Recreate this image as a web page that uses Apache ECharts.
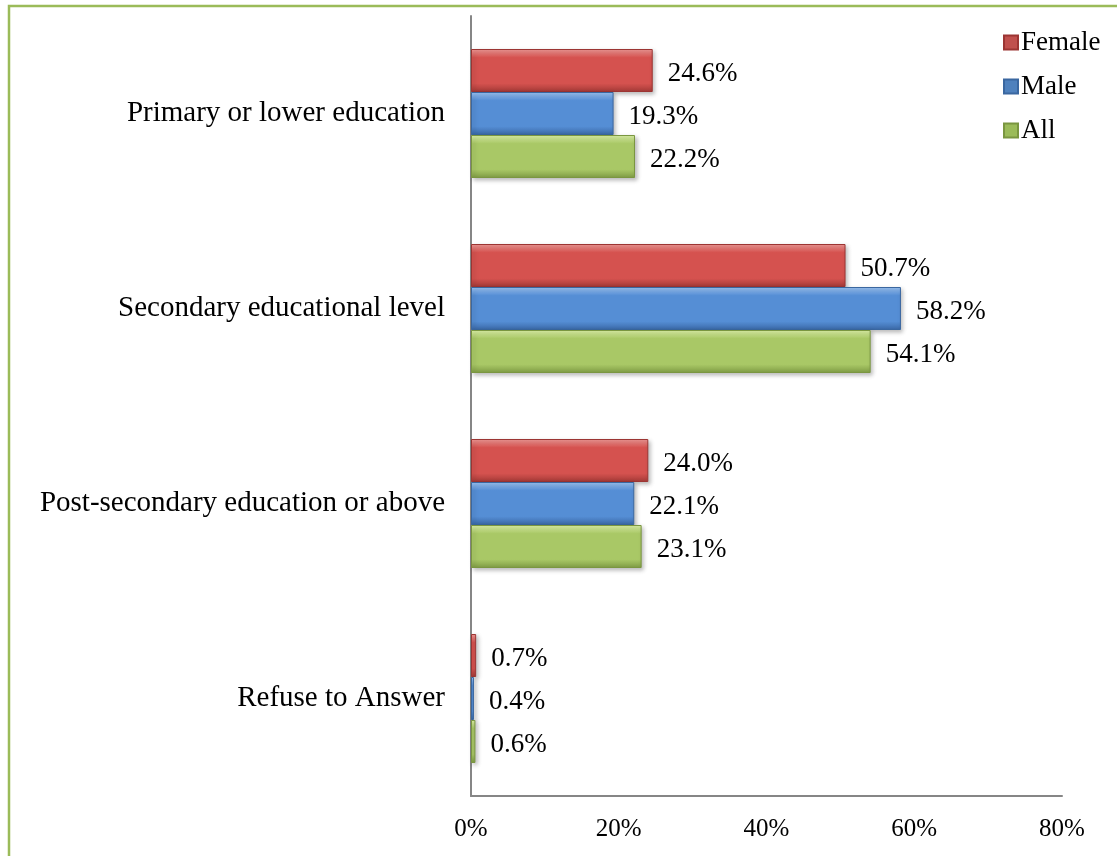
<!DOCTYPE html>
<html>
<head>
<meta charset="utf-8">
<script src="https://cdn.jsdelivr.net/npm/echarts@6/dist/echarts.min.js"></script>
<style>
html,body{margin:0;padding:0;background:#fff;}
#chart{width:1117px;height:856px;}
</style>
</head>
<body>
<div id="chart"></div>
<script>
const categories = ["Primary or lower education", "Secondary educational level", "Post-secondary education or above", "Refuse to Answer"];
const female = [24.6, 50.7, 24.0, 0.7];
const male = [19.3, 58.2, 22.1, 0.4];
const all = [22.2, 54.1, 23.1, 0.6];
const seriesNames = ["Female", "Male", "All"];
const xTicks = [0, 20, 40, 60, 80];

const FONT = '"Liberation Serif", "Times New Roman", serif';

function grad(light, main, dark) {
  return new echarts.graphic.LinearGradient(0, 0, 0, 1, [
    {offset: 0, color: light},
    {offset: 0.2, color: main},
    {offset: 0.8, color: main},
    {offset: 1, color: dark}
  ]);
}
const styles = {
  Female: {fill: grad('#f09a97', '#d5524f', '#a33a37'), border: '#9c3533', icon: '#c0504d'},
  Male: {fill: grad('#9cc4f4', '#558ed5', '#3a68a6'), border: '#3a67a0', icon: '#4f81bd'},
  All: {fill: grad('#ddf2a8', '#a9c866', '#7f9c44'), border: '#7a9640', icon: '#9bbb59'}
};

function mkSeries(name, data) {
  return {
    name: name,
    type: 'bar',
    data: data,
    barWidth: 43,
    barGap: '0%',
    itemStyle: {
      color: styles[name].fill,
      borderColor: styles[name].border,
      borderWidth: 1,
      shadowColor: 'rgba(0,0,0,0.25)',
      shadowBlur: 4,
      shadowOffsetX: 2,
      shadowOffsetY: 2
    },
    label: {
      show: true,
      position: 'right',
      distance: 15,
      offset: [0, 3],
      formatter: p => p.value.toFixed(1) + '%',
      fontFamily: FONT,
      fontSize: 27,
      color: '#000'
    }
  };
}

const chart = echarts.init(document.getElementById('chart'));
chart.setOption({
  backgroundColor: '#fff',
  animation: false,
  graphic: [{
    type: 'rect',
    shape: {x: 9, y: 6, width: 1200, height: 1000},
    style: {fill: 'none', stroke: '#9bbb59', lineWidth: 2.5},
    z: 100
  }],
  legend: {
    orient: 'vertical',
    left: 998,
    top: 24,
    itemWidth: 14,
    itemHeight: 14,
    itemGap: 17,
    data: seriesNames.map(n => ({name: n, icon: 'rect', itemStyle: {color: styles[n].icon}})),
    textStyle: {fontFamily: FONT, fontSize: 27, color: '#000', padding: [0, 0, 0, -2]}
  },
  grid: {left: 471, right: 55, top: 16, bottom: 60, containLabel: false},
  xAxis: {
    type: 'value',
    min: 0,
    max: 80,
    interval: 20,
    axisLine: {show: true, lineStyle: {color: '#868686', width: 2}},
    axisTick: {show: false},
    splitLine: {show: false},
    axisLabel: {
      formatter: v => xTicks.includes(v) ? v + '%' : '',
      fontFamily: FONT,
      fontSize: 25,
      color: '#000',
      margin: 21
    }
  },
  yAxis: {
    type: 'category',
    data: categories,
    inverse: true,
    axisLine: {show: true, lineStyle: {color: '#868686', width: 2}},
    axisTick: {show: false},
    axisLabel: {fontFamily: FONT, fontSize: 29, color: '#000', margin: 26}
  },
  series: [mkSeries('Female', female), mkSeries('Male', male), mkSeries('All', all)]
});
</script>
</body>
</html>
